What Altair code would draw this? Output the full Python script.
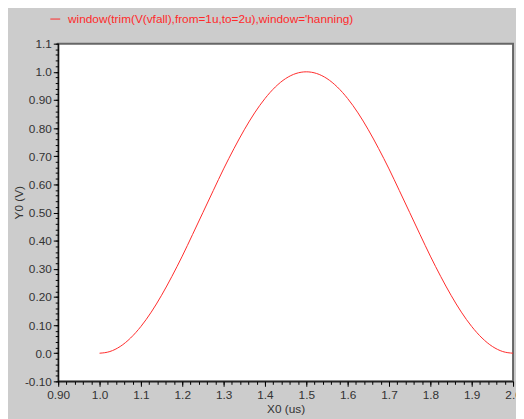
import json
import altair as alt
import pandas as pd

# ---- data ----
x_vals = [1.0, 1.025, 1.05, 1.075, 1.1, 1.125, 1.15, 1.175, 1.2, 1.225, 1.25,
          1.275, 1.3, 1.325, 1.35, 1.375, 1.4, 1.425, 1.45, 1.475, 1.5,
          1.525, 1.55, 1.575, 1.6, 1.625, 1.65, 1.675, 1.7, 1.725, 1.75,
          1.775, 1.8, 1.825, 1.85, 1.875, 1.9, 1.925, 1.95, 1.975, 2.0]
y_vals = [0.0, 0.006, 0.024, 0.054, 0.095, 0.146, 0.206, 0.273, 0.345, 0.422, 0.5,
          0.578, 0.655, 0.727, 0.794, 0.854, 0.905, 0.946, 0.976, 0.994, 1.0,
          0.994, 0.976, 0.946, 0.905, 0.854, 0.794, 0.727, 0.655, 0.578, 0.5,
          0.422, 0.345, 0.273, 0.206, 0.146, 0.095, 0.054, 0.024, 0.006, 0.0]
series_name = "window(trim(V(vfall),from=1u,to=2u),window='hanning)"

x_major = [0.9, 1.0, 1.1, 1.2, 1.3, 1.4, 1.5, 1.6, 1.7, 1.8, 1.9, 2.0]
x_labels = ["0.90", "1.0", "1.1", "1.2", "1.3", "1.4", "1.5", "1.6", "1.7", "1.8", "1.9", "2.0"]
y_major = [-0.1, 0.0, 0.1, 0.2, 0.3, 0.4, 0.5, 0.6, 0.7, 0.8, 0.9, 1.0, 1.1]
y_labels = ["-0.10", "0.0", "0.10", "0.20", "0.30", "0.40", "0.50", "0.60",
            "0.70", "0.80", "0.90", "1.0", "1.1"]
x_minor = [round(0.9 + 0.02 * i, 2) for i in range(56)]
y_minor = [round(-0.1 + 0.02 * i, 2) for i in range(61)]

df = pd.DataFrame({"x": x_vals, "y": y_vals, "series": series_name})

FONT = "Liberation Sans"
RED = "#ff2a2a"
LABEL_COL = "#333333"

x_expr = json.dumps(x_labels) + "[round((datum.value - 0.9) * 10)]"
y_expr = json.dumps(y_labels) + "[round((datum.value + 0.1) * 10)]"

x_scale = alt.Scale(domain=[0.9, 2.0], nice=False, zero=False)
y_scale = alt.Scale(domain=[-0.1, 1.1], nice=False, zero=False)

main = alt.Chart(df).mark_line(strokeWidth=1, interpolate="monotone").encode(
    x=alt.X("x:Q", scale=x_scale, axis=alt.Axis(
        orient="bottom", values=x_major, labelExpr=x_expr, tickSize=5,
        tickColor="#000000", domainColor="#000000", grid=False,
        labelFont=FONT, labelFontSize=12, labelColor=LABEL_COL, labelPadding=3,
        labelFlush=False, labelOverlap=False,
        title="X0 (us)", titleFont=FONT, titleFontSize=12, titleFontWeight="normal",
        titleColor=LABEL_COL, titleY=28, titleBaseline="middle")),
    y=alt.Y("y:Q", scale=y_scale, axis=alt.Axis(
        orient="left", values=y_major, labelExpr=y_expr, tickSize=5,
        tickColor="#000000", domainColor="#000000", grid=False,
        labelFont=FONT, labelFontSize=12, labelColor=LABEL_COL, labelPadding=2,
        labelFlush=False, labelOverlap=False,
        title="Y0 (V)", titleFont=FONT, titleFontSize=12, titleFontWeight="normal",
        titleColor=LABEL_COL, titleX=-40, titleY=161, titleAngle=-90,
        titleBaseline="middle", titleAlign="center")),
    color=alt.Color("series:N", scale=alt.Scale(range=[RED]), legend=alt.Legend(
        orient="none", legendX=-9, legendY=-31, title=None, padding=0,
        symbolType="stroke", symbolSize=100, symbolStrokeWidth=1,
        labelFont=FONT, labelFontSize=12, labelColor=RED, labelOffset=7,
        labelLimit=0)),
)

minor = alt.Chart(df).mark_line(opacity=0).encode(
    x=alt.X("x:Q", scale=x_scale, axis=alt.Axis(
        orient="bottom", values=x_minor, labels=False, tickSize=3, domain=False,
        tickColor="#000000", grid=False, title=None)),
    y=alt.Y("y:Q", scale=y_scale, axis=alt.Axis(
        orient="left", values=y_minor, labels=False, tickSize=3, domain=False,
        tickColor="#000000", grid=False, title=None)),
)

chart = alt.layer(main, minor).resolve_axis(
    x="independent", y="independent"
).properties(
    width=462, height=343,
    autosize=alt.AutoSizeParams(type="none"),
    padding={"left": 51, "top": 33, "right": 3, "bottom": 35},
    background="#cccccc",
).configure_view(
    stroke="#666666", strokeWidth=2, fill="#ffffff"
)

chart.save("out.html", embed_options={"renderer": "svg", "actions": False})
